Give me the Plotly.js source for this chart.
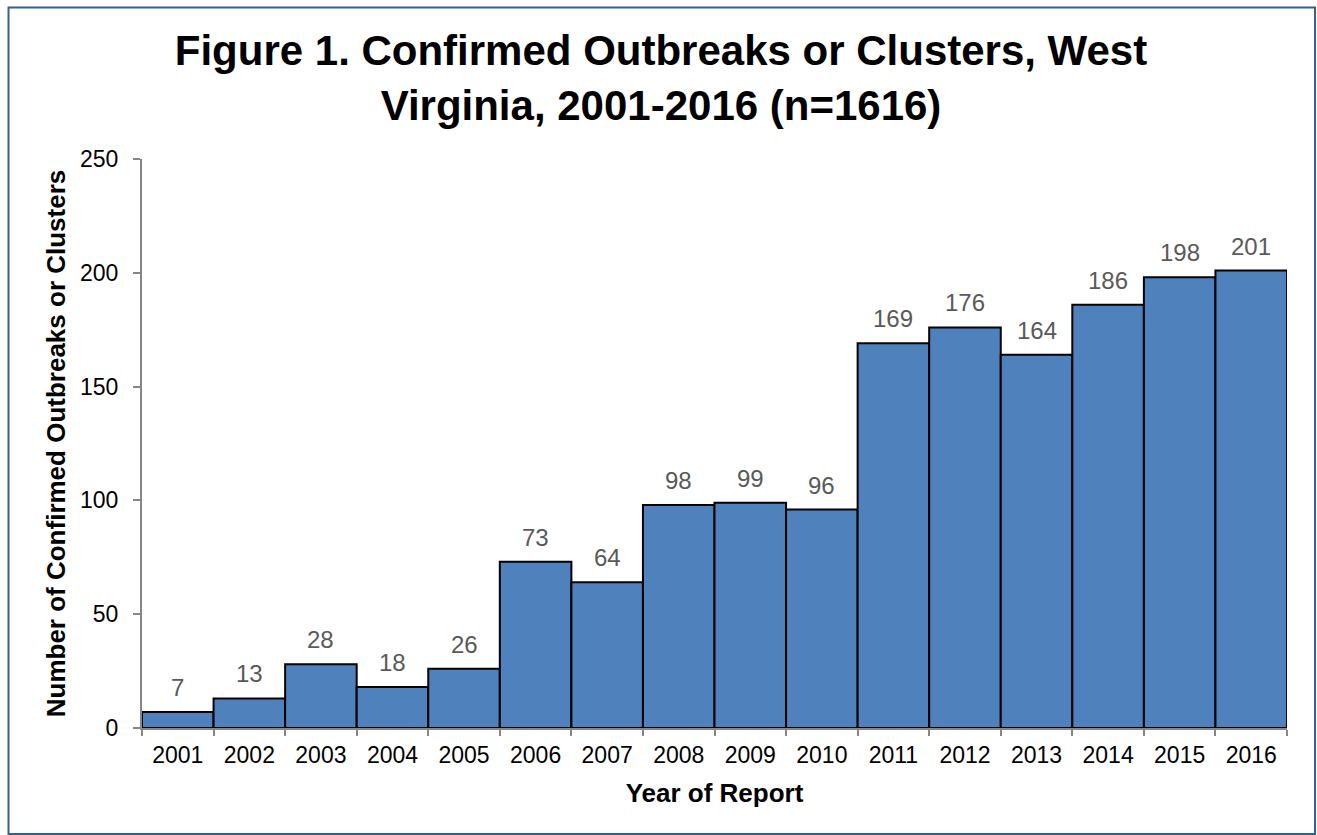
<!DOCTYPE html>
<html>
<head>
<meta charset="utf-8">
<script src="https://cdn.plot.ly/plotly-3.0.1.min.js"></script>
<style>html,body{margin:0;padding:0;background:#fff;}#chart{width:1317px;height:835px;}</style>
</head>
<body>
<div id="chart"></div>
<script>
const years = ["2001","2002","2003","2004","2005","2006","2007","2008","2009","2010","2011","2012","2013","2014","2015","2016"];
const outbreaks = [7,13,28,18,26,73,64,98,99,96,169,176,164,186,198,201];

const W = 1317, H = 835;
const mL = 142, mR = 30, mT = 159, mB = 107;
const pw = W - mL - mR, ph = H - mT - mB;
const px = v => (v - mL) / pw;
const py = v => (H - mB - v) / ph;

const trace = {
  type: 'bar',
  x: years,
  y: outbreaks,
  marker: {color: '#4F81BD', line: {color: '#000000', width: 2}},
  hoverinfo: 'none'
};

// value labels placed at each category's index on the category axis
const labels = years.map((yr, i) => ({
  x: i, y: outbreaks[i], xref: 'x', yref: 'y',
  text: String(outbreaks[i]),
  showarrow: false, yanchor: 'bottom', xanchor: 'center', yshift: 9,
  font: {family: 'Liberation Sans, Arial, sans-serif', size: 24, color: '#595959'}
}));

const layout = {
  width: W, height: H,
  margin: {l: mL, r: mR, t: mT, b: mB, pad: 0},
  paper_bgcolor: '#ffffff',
  plot_bgcolor: '#ffffff',
  font: {family: 'Liberation Sans, Arial, sans-serif', color: '#000000'},
  bargap: 0,
  showlegend: false,
  title: {
    text: '<b>Figure 1. Confirmed Outbreaks or Clusters, West<br>Virginia, 2001-2016 (n=1616)</b>',
    font: {size: 42, color: '#000000'},
    xref: 'container', x: 661 / W, xanchor: 'center',
    yref: 'container', y: 1 - 65 / H, yanchor: 'top'
  },
  xaxis: {
    type: 'category',
    categoryorder: 'array', categoryarray: years,
    range: [-0.5, years.length - 0.5],
    tickson: 'boundaries',
    tickangle: 0,
    ticks: 'outside', ticklen: 6, tickcolor: '#868686', tickwidth: 2,
    showline: true, linecolor: '#868686', linewidth: 2,
    showgrid: false, zeroline: false,
    tickfont: {size: 23, color: '#000000'},
    ticklabelstandoff: 5,
    title: {text: '<b>Year of Report</b>', font: {size: 26, color: '#000000'}, standoff: 17}
  },
  yaxis: {
    range: [0, 250], dtick: 50,
    ticks: 'outside', ticklen: 7, tickcolor: '#868686', tickwidth: 2,
    showline: true, linecolor: '#868686', linewidth: 2,
    showgrid: false, zeroline: false,
    tickfont: {size: 23, color: '#000000'},
    ticklabelstandoff: 10,
    title: {text: '<b>Number of Confirmed Outbreaks or Clusters</b>', font: {size: 26, color: '#000000'}, standoff: 7}
  },
  annotations: labels,
  shapes: [{
    type: 'rect', xref: 'paper', yref: 'paper', layer: 'above',
    x0: px(8.5), x1: px(1315), y0: py(834), y1: py(7.5),
    line: {color: '#355E92', width: 2}, fillcolor: 'rgba(0,0,0,0)'
  }]
};

Plotly.newPlot('chart', [trace], layout, {displayModeBar: false, staticPlot: true});
</script>
</body>
</html>
